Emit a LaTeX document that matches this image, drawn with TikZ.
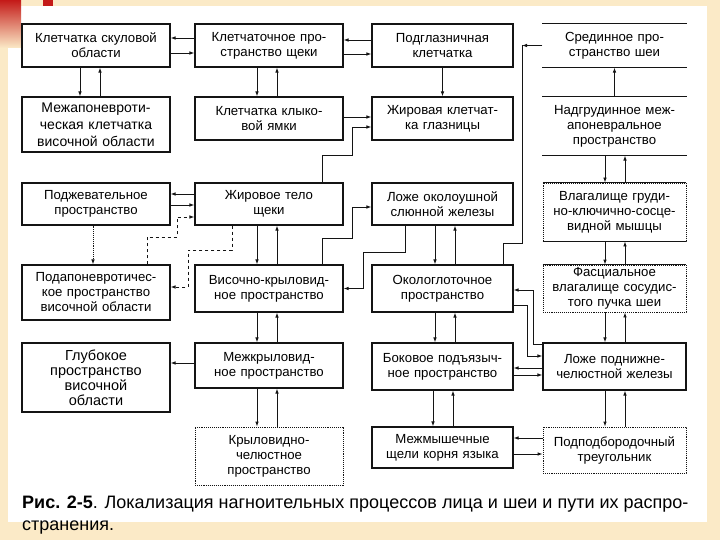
\documentclass[tikz,border=0pt]{standalone}
\usepackage{fontspec}
\setmainfont{Liberation Sans}
\usetikzlibrary{arrows.meta,calc}
\definecolor{creamc}{RGB}{251,234,199}
\definecolor{redc}{RGB}{196,26,24}
\definecolor{inkc}{RGB}{20,20,20}

\begin{document}
\begin{tikzpicture}[
  x=1pt, y=-1pt,
  >={Latex[length=5pt,width=3.6pt]},
  font=\fontsize{13.2}{15}\selectfont,
  blk/.style 2 args={
    rectangle, draw=inkc, line width=1.1pt, align=center,
    inner sep=2pt, text width=136pt, minimum width=#1, minimum height=#2
  },
  dblk/.style 2 args={blk={#1}{#2}, densely dotted, line width=0.9pt},
  oblk/.style 2 args={blk={#1}{#2}, draw=none},
  frame/.style={line width=1.1pt, draw=inkc},
  wire/.style={line width=0.9pt, draw=inkc},
  arr/.style={->, line width=0.9pt, draw=inkc},
  darr/.style={arr, dashed},
]
\useasboundingbox (0,0) rectangle (720,540);

% ---- slide background ----
\fill[creamc] (0,0) rectangle (720,540);
\fill[white] (8,6) rectangle (707,522);
\shade[top color=redc, bottom color=creamc] (0,0) rectangle (21,48);
\fill[redc] (43,0) rectangle (53,6);

% ---- row 1 ----
\node[blk={148pt}{43pt}] (c1r1) at (96,45.5) {Клетчатка скуловой\\области};
\node[blk={148pt}{43pt}] (c2r1) at (269,45.5) {Клетчаточное про-\\странство щеки};
\node[blk={141pt}{43pt}] (c3r1) at (442.5,45.5) {Подглазничная\\клетчатка};
\node[oblk={143pt}{43pt}] (c4r1) at (614.5,45.5) {Срединное про-\\странство шеи};

% ---- row 2 ----
\node[blk={148pt}{55pt}, font=\fontsize{14}{17}\selectfont] (c1r2) at (96,124.5)
  {Межапоневроти-\\ческая клетчатка\\височной области};
\node[blk={148pt}{43pt}] (c2r2) at (269,118.5) {Клетчатка клыко-\\вой ямки};
\node[blk={141pt}{43pt}] (c3r2) at (442.5,118.5) {Жировая клетчат-\\ка глазницы};
\node[oblk={143pt}{58pt}] (c4r2) at (614.5,126)
  {Надгрудинное меж-\\апоневральное\\пространство};

% ---- row 3 ----
\node[blk={148pt}{42pt}] (c1r3) at (96,204) {Поджевательное\\пространство};
\node[blk={148pt}{42pt}] (c2r3) at (269,204) {Жировое тело\\щеки};
\node[blk={141pt}{42pt}] (c3r3) at (442.5,204) {Ложе околоушной\\слюнной железы};
\node[dblk={143pt}{58pt}] (c4r3) at (614.5,212)
  {Влагалище груди-\\но-ключично-сосце-\\видной мышцы};

% ---- row 4 ----
\node[blk={148pt}{55pt}] (c1r4) at (96,292.5)
  {Подапоневротичес-\\кое пространство\\височной области};
\node[blk={148pt}{47pt}] (c2r4) at (269,288.5) {Височно-крыловид-\\ное пространство};
\node[blk={141pt}{47pt}] (c3r4) at (442.5,288.5) {Окологлоточное\\пространство};
\node[dblk={143pt}{47pt}] (c4r4) at (614.5,288.5)
  {Фасциальное\\влагалище сосудис-\\того пучка шеи};

% ---- row 5 ----
\node[blk={148pt}{69pt}, font=\fontsize{14.5}{15}\selectfont] (c1r5) at (96,377.5)
  {Глубокое\\пространство\\височной\\области};
\node[blk={148pt}{45pt}] (c2r5) at (269,365.5) {Межкрыловид-\\ное пространство};
\node[blk={141pt}{47pt}] (c3r5) at (442.5,366.5) {Боковое подъязыч-\\ное пространство};
\node[blk={143pt}{47pt}] (c4r5) at (614.5,366.5) {Ложе поднижне-\\челюстной железы};

% ---- row 6 ----
\node[dblk={148pt}{58pt}] (c2r6) at (269,456) {Крыловидно-\\челюстное\\пространство};
\node[blk={141pt}{41pt}] (c3r6) at (442.5,447.5) {Межмышечные\\щели корня языка};
\node[dblk={143pt}{46pt}] (c4r6) at (614.5,450) {Подподбородочный\\треугольник};

% open frames of the neck column
\draw[frame] (c4r1.north west) -- (c4r1.north east) (c4r1.south west) -- (c4r1.south east);
\draw[frame] (c4r2.north west) -- (c4r2.north east) (c4r2.south west) -- (c4r2.south east);
\draw[frame] (c4r3.north west) -- (c4r3.north east) (c4r3.south west) -- (c4r3.south east);
\draw[frame] (c4r4.north west) -- (c4r4.north east);

% ---- sideways arrows, row 1 ----
\draw[arr] ([yshift=7.5pt]c2r1.west) -- ([yshift=7.5pt]c1r1.east);
\draw[arr] ([yshift=-7.5pt]c1r1.east) -- ([yshift=-7.5pt]c2r1.west);
\draw[arr] ([yshift=5.5pt]c3r1.west) -- ([yshift=5.5pt]c2r1.east);
\draw[arr] ([yshift=-8.5pt]c2r1.east) -- ([yshift=-8.5pt]c3r1.west);

% ---- vertical arrows ----
\draw[arr] ([xshift=-16pt]c1r1.south) -- ([xshift=-16pt]c1r2.north);
\draw[arr] ([xshift=4pt]c1r2.north) -- ([xshift=4pt]c1r1.south);
\draw[arr, densely dotted] ([xshift=-3pt]c1r3.south) -- ([xshift=-3pt]c1r4.north);

\draw[arr] ([xshift=-12pt]c2r1.south) -- ([xshift=-12pt]c2r2.north);
\draw[arr] ([xshift=8pt]c2r2.north) -- ([xshift=8pt]c2r1.south);
\draw[arr] ([xshift=-12pt]c2r3.south) -- ([xshift=-12pt]c2r4.north);
\draw[arr] ([xshift=8pt]c2r4.north) -- ([xshift=8pt]c2r3.south);
\draw[arr] ([xshift=-12pt]c2r4.south) -- ([xshift=-12pt]c2r5.north);
\draw[arr] ([xshift=8pt]c2r5.north) -- ([xshift=8pt]c2r4.south);
\draw[arr] ([xshift=-12pt]c2r5.south) -- ([xshift=-12pt]c2r6.north);
\draw[arr] ([xshift=8pt]c2r6.north) -- ([xshift=8pt]c2r5.south);

\draw[arr] (c3r1.south) -- (c3r2.north);
\draw[arr] ([xshift=-7.5pt]c3r3.south) -- ([xshift=-7.5pt]c3r4.north);
\draw[arr] ([xshift=12.5pt]c3r4.north) -- ([xshift=12.5pt]c3r3.south);
\draw[arr] ([xshift=-7.5pt]c3r4.south) -- ([xshift=-7.5pt]c3r5.north);
\draw[arr] ([xshift=12.5pt]c3r5.north) -- ([xshift=12.5pt]c3r4.south);
\draw[arr] ([xshift=-9.5pt]c3r5.south) -- ([xshift=-9.5pt]c3r6.north);
\draw[arr] ([xshift=10.5pt]c3r6.north) -- ([xshift=10.5pt]c3r5.south);

\draw[arr] (c4r2.north) -- (c4r1.south);
\draw[arr] ([xshift=-9.5pt]c4r2.south) -- ([xshift=-9.5pt]c4r3.north);
\draw[arr] ([xshift=10.5pt]c4r3.north) -- ([xshift=10.5pt]c4r2.south);
\draw[arr] ([xshift=-9.5pt]c4r3.south) -- ([xshift=-9.5pt]c4r4.north);
\draw[arr] ([xshift=10.5pt]c4r4.north) -- ([xshift=10.5pt]c4r3.south);
\draw[arr] ([xshift=-9.5pt]c4r4.south) -- ([xshift=-9.5pt]c4r5.north);
\draw[arr] ([xshift=10.5pt]c4r5.north) -- ([xshift=10.5pt]c4r4.south);
\draw[arr] ([xshift=-9.5pt]c4r5.south) -- ([xshift=-9.5pt]c4r6.north);
\draw[arr] ([xshift=10.5pt]c4r6.north) -- ([xshift=10.5pt]c4r5.south);

% ---- row 2 links to the orbit ----
\draw[arr] ([yshift=1.5pt]c2r2.east) -- ([yshift=1.5pt]c3r2.west);
\coordinate (bendA) at (352,155);
\draw[arr] ([xshift=53pt]c2r3.north) |- (bendA) |- ([yshift=-8.5pt]c3r2.west);

% ---- row 3 ----
\draw[arr] ([yshift=10pt]c2r3.west) -- ([yshift=10pt]c1r3.east);
\draw[arr] ([yshift=-1pt]c1r3.east) -- ([yshift=-1pt]c2r3.west);
\coordinate (bendB) at (177,237);
\draw[darr] ([xshift=51pt]c1r4.north) |- (bendB) |- ([yshift=-13pt]c2r3.west);
\coordinate (bendC) at (352,238);
\draw[arr] ([xshift=53pt]c2r4.north) |- (bendC) |- ([yshift=-3pt]c3r3.west);

% ---- into row 4 from above ----
\coordinate (bendD) at (188,250);
\draw[darr] ([xshift=-37pt]c2r3.south) |- (bendD) |- ([yshift=5.5pt]c1r4.east);
\coordinate (bendE) at (363,252);
\draw[arr] ([xshift=-37.5pt]c3r3.south) |- (bendE) |- (c2r4.east);

% ---- median neck space down to the pharynx ----
\coordinate (bendF) at (522,243);
\coordinate (bendG) at (522,45.5);
\draw[wire] ([xshift=60.5pt]c3r4.north) |- (bendF) -- (bendG);
\draw[arr] (c4r1.west) -- (bendG);

% ---- submandibular bed and pharynx ----
\coordinate (bendH) at (533,290);
\draw[arr] ([yshift=22pt]c4r5.west) -| (bendH) -- ([yshift=-1.5pt]c3r4.east);
\coordinate (bendI) at (527,356);
\draw[arr] ([yshift=-16.5pt]c3r4.east) -| (bendI) -- ([yshift=10.5pt]c4r5.west);

% ---- rows 5 and 6 ----
\draw[arr] ([yshift=2.5pt]c2r5.west) -- ([yshift=2.5pt]c2r5.west -| c1r5.east);
\draw[arr] ([yshift=-1.5pt]c4r5.west) -- ([yshift=-1.5pt]c3r5.east);
\draw[arr] ([yshift=-8.5pt]c3r5.east) -- ([yshift=-8.5pt]c4r5.west);
\draw[arr] ([yshift=12pt]c4r6.west) -- ([yshift=12pt]c4r6.west -| c3r6.east);
\draw[arr] ([yshift=-4pt]c4r6.west -| c3r6.east) -- ([yshift=-4pt]c4r6.west);

% ---- caption ----
\node[anchor=base west, inner sep=0, font=\fontsize{18}{22}\selectfont] (cap1) at (22,508)
  {\textbf{Рис. 2-5}. Локализация нагноительных процессов лица и шеи и пути их распро-};
\node[anchor=base west, inner sep=0, font=\fontsize{18}{22}\selectfont] (cap2) at (22,530)
  {странения.};

\end{tikzpicture}
\end{document}
